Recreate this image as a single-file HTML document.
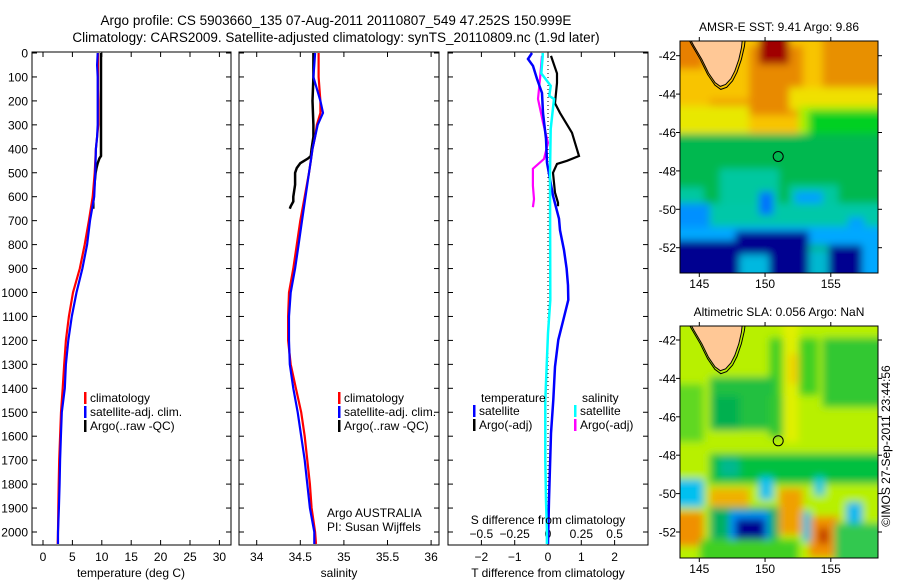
<!DOCTYPE html>
<html><head><meta charset="utf-8">
<style>
body{margin:0;background:#fff;}
svg{display:block;font-family:"Liberation Sans",sans-serif;}
text{fill:#000;}
</style></head>
<body>
<svg id="fig" width="900" height="580" viewBox="0 0 900 580" xmlns="http://www.w3.org/2000/svg">
<defs>
<filter id="blurTop" filterUnits="userSpaceOnUse" x="670" y="30" width="220" height="255"><feGaussianBlur stdDeviation="4"/></filter>
<filter id="blurBot" filterUnits="userSpaceOnUse" x="670" y="315" width="220" height="255"><feGaussianBlur stdDeviation="4"/></filter>
<clipPath id="clipTop"><rect x="680" y="41" width="198" height="232"/></clipPath>
<clipPath id="clipBot"><rect x="680" y="326" width="198" height="232"/></clipPath>
</defs>
<text x="336" y="25" font-size="13.5" text-anchor="middle">Argo profile: CS 5903660_135 07-Aug-2011 20110807_549 47.252S 150.999E</text>
<text x="336" y="42" font-size="13.5" text-anchor="middle">Climatology: CARS2009. Satellite-adjusted climatology: synTS_20110809.nc (1.9d later)</text>
<g id="g1"></g>
<g id="g2"></g>
<g id="g3"></g>
<g id="m1"></g>
<g id="m2"></g>
</svg>
<script>
// ---- depth profiles data ----
const climDepth = [0,50,100,150,200,250,300,350,400,450,500,600,700,800,900,1000,1100,1200,1300,1400,1500,1600,1700,1800,1900,2000,2050];
const tClim = [9.35,9.35,9.35,9.35,9.4,9.4,9.4,9.2,9.0,8.9,8.8,8.45,7.8,7.1,6.25,5.1,4.4,3.9,3.6,3.35,3.06,2.9,2.75,2.67,2.6,2.55,2.5];
const tSat  = [9.3,9.2,9.3,9.3,9.3,9.3,9.3,9.2,9.0,8.95,8.9,8.7,8.0,7.5,6.7,5.7,4.9,4.3,3.9,3.7,3.2,3.05,2.9,2.83,2.7,2.55,2.55];
const sClim = [34.71,34.71,34.71,34.72,34.73,34.73,34.69,34.67,34.64,34.62,34.6,34.55,34.5,34.46,34.42,34.37,34.36,34.36,34.39,34.45,34.51,34.55,34.58,34.61,34.63,34.67,34.68];
const sSat  = [34.67,34.66,34.65,34.69,34.73,34.76,34.70,34.67,34.64,34.62,34.6,34.56,34.52,34.48,34.44,34.39,34.37,34.37,34.38,34.42,34.47,34.51,34.55,34.58,34.61,34.66,34.66];
const argoDepth = [0,100,200,300,350,400,430,440,460,480,500,550,600,620,640,650];
const tArgo = [9.86,9.86,9.86,9.86,9.86,9.86,9.86,9.6,9.3,9.1,8.95,8.75,8.6,8.55,8.55,8.55];
const sArgo = [34.65,34.65,34.64,34.65,34.65,34.63,34.62,34.59,34.5,34.46,34.44,34.44,34.42,34.42,34.39,34.38];
// differences
const tDiffDepth = [0,25,54,108,167,250,358,458,596,692,740,823,900,970,1031,1115,1198,1310,1449,1588,1727,1866,1991,2050];
const tDiffSat = [-0.48,-0.6,-0.45,-0.33,-0.18,-0.15,-0.06,-0.03,0.15,0.33,0.36,0.48,0.56,0.6,0.61,0.46,0.31,0.21,0.16,0.09,0.06,0.03,0.01,0.0];
const sDiffDepth = [0,12,85,137,179,192,317,500,1031,1170,1449,1700,1866,1991,2050];
const sDiffSat = [-0.04,-0.04,-0.05,0.02,0.01,0.045,0.02,0.015,0.017,0.0,-0.02,-0.02,-0.015,-0.008,-0.008];
const tDiffArgoDepth = [12,85,125,210,250,333,375,430,450,463,500,583,625,640];
const tDiffArgo = [0.09,0.27,0.27,0.21,0.36,0.72,0.81,0.93,0.57,0.27,0.15,0.21,0.3,0.3];
const sDiffArgoDepth = [12,108,192,292,375,442,483,554,610,644];
const sDiffArgo = [-0.045,-0.06,-0.075,-0.037,0,-0.03,-0.113,-0.113,-0.105,-0.113];
// ticks
const depthTicks = [0,100,200,300,400,500,600,700,800,900,1000,1100,1200,1300,1400,1500,1600,1700,1800,1900,2000];
const tTicks = [0,5,10,15,20,25,30];
const sTicks = [34,34.5,35,35.5,36];
const sTickLabels = ["34","34.5","35","35.5","36"];
const dTTicks = [-2,-1,0,1,2];
const dSTicks = [-0.5,-0.25,0,0.25,0.5];
const dSTickLabels = ["\u22120.5","\u22120.25","0","0.25","0.5"];
const dTTickLabels = ["\u22122","\u22121","0","1","2"];
const lonTicks = [145,150,155];
const latTicks = [-42,-44,-46,-48,-50,-52];

const NS="http://www.w3.org/2000/svg";
function mk(parent, tag, attrs, txt){
  const e=document.createElementNS(NS,tag);
  for(const k in attrs) e.setAttribute(k,attrs[k]);
  if(txt!==undefined) e.textContent=txt;
  parent.appendChild(e); return e;
}
const Y = d => 53 + d*0.2395;
const TOP=52, BOT=545;

function frame(g, x0, x1, name){
  const r = mk(g,'rect',{x:x0,y:TOP,width:x1-x0,height:BOT-TOP,fill:'none',stroke:'#000','stroke-width':1});
  
  
  depthTicks.forEach(d=>{
    const y=Y(d);
    mk(g,'line',{x1:x0,x2:x0+5,y1:y,y2:y,stroke:'#000'});
    mk(g,'line',{x1:x1-5,x2:x1,y1:y,y2:y,stroke:'#000'});
  });
}
function line(g, xs, ds, X, color, name, w){
  const pts = xs.map((v,i)=>X(v).toFixed(1)+','+Y(ds[i]).toFixed(1)).join(' ');
  const p = mk(g,'polyline',{points:pts,fill:'none',stroke:color,'stroke-width':w||2.2,'stroke-linejoin':'miter'});
  
  
}
function xticks(g,ticks,labels,X,x0,x1,ly){
  ticks.forEach((t,i)=>{
    const x=X(t);
    mk(g,'line',{x1:x,x2:x,y1:TOP,y2:TOP+5,stroke:'#000'});
    mk(g,'line',{x1:x,x2:x,y1:BOT-5,y2:BOT,stroke:'#000'});
    const tx = mk(g,'text',{x:x,y:ly,'font-size':12,'text-anchor':'middle'},labels[i]);
    
    
  });
}
function legend(g,x,y,color,label,name){
  mk(g,'rect',{x:x,y:y-10,width:2.5,height:12,fill:color});
  const t=mk(g,'text',{x:x+6,y:y,'font-size':12},label);
  
  
}

// ---- panel 1: temperature ----
const g1=document.getElementById('g1');
const X1 = t => 43 + t*5.88;
frame(g1,32,231,'temperature');
depthTicks.forEach(d=>{
  const t=mk(g1,'text',{x:28,y:Y(d)+4.5,'font-size':12,'text-anchor':'end'},String(d));
  
  
});
xticks(g1,tTicks,tTicks.map(String),X1,32,231,561);
line(g1,tArgo,argoDepth,X1,'#000','argo-temperature-line',2.5);
line(g1,tClim,climDepth,X1,'#f00','climatology-temperature-line');
line(g1,tSat,climDepth,X1,'#00f','satellite-temperature-line');
legend(g1,84,402,'#f00','climatology','legend-climatology');
legend(g1,84,416,'#00f','satellite-adj. clim.','legend-satellite');
legend(g1,84,430,'#000','Argo(..raw -QC)','legend-argo');
mk(g1,'text',{x:131,y:577,'font-size':12,'text-anchor':'middle',},'temperature (deg C)');

// ---- panel 2: salinity ----
const g2=document.getElementById('g2');
const X2 = s => 256.7 + (s-34)*87.2;
frame(g2,239,439,'salinity');
xticks(g2,sTicks,sTickLabels,X2,239,439,561);
line(g2,sArgo,argoDepth,X2,'#000','argo-salinity-line',2.5);
line(g2,sClim,climDepth,X2,'#f00','climatology-salinity-line');
line(g2,sSat,climDepth,X2,'#00f','satellite-salinity-line');
legend(g2,338,402,'#f00','climatology','legend-climatology');
legend(g2,338,416,'#00f','satellite-adj. clim.','legend-satellite');
legend(g2,338,430,'#000','Argo(..raw -QC)','legend-argo');
mk(g2,'text',{x:327,y:517,'font-size':12,},'Argo AUSTRALIA');
mk(g2,'text',{x:327,y:531,'font-size':12,},'PI: Susan Wijffels');
mk(g2,'text',{x:339,y:577,'font-size':12,'text-anchor':'middle',},'salinity');

// ---- panel 3: differences ----
const g3=document.getElementById('g3');
const XT = v => 548 + v*33.3;
const XS = v => 548 + v*133.3;
frame(g3,448,648,'difference');
xticks(g3,dTTicks,dTTickLabels,XT,448,648,561);
dSTicks.forEach((v,i)=>{
  const t=mk(g3,'text',{x:XS(v),y:538,'font-size':12,'text-anchor':'middle'},dSTickLabels[i]);
  
  
});
mk(g3,'line',{x1:XT(0),x2:XT(0),y1:Y(0),y2:BOT,stroke:'#000','stroke-dasharray':'1,3'});
line(g3,tDiffArgo,tDiffArgoDepth,XT,'#000','argo-temperature-diff-line');
line(g3,sDiffArgo,sDiffArgoDepth,XS,'#f0f','argo-salinity-diff-line');
line(g3,tDiffSat,tDiffDepth,XT,'#00f','satellite-temperature-diff-line',2.5);
line(g3,sDiffSat,sDiffDepth,XS,'#0ff','satellite-salinity-diff-line',2.5);
mk(g3,'text',{x:481,y:402,'font-size':12,},'temperature');
mk(g3,'text',{x:582,y:402,'font-size':12,},'salinity');
legend(g3,473,415,'#00f','satellite','legend-t-satellite');
legend(g3,473,429,'#000','Argo(-adj)','legend-t-argo');
legend(g3,574,415,'#0ff','satellite','legend-s-satellite');
legend(g3,574,429,'#f0f','Argo(-adj)','legend-s-argo');
mk(g3,'text',{x:548,y:524,'font-size':12,'text-anchor':'middle',},'S difference from climatology');
mk(g3,'text',{x:548,y:577,'font-size':12,'text-anchor':'middle',},'T difference from climatology');

// ---- maps ----
// blobs: [fx0, fy0, fx1, fy1, color] as fractions of map area
const sstBlobs = [
 [-0.1,-0.1,1.1,1.1,'#00b850'],
 [-0.1,-0.1,1.1,0.42,'#f8c400'],[-0.1,-0.1,0.12,0.12,'#e88000'],[0.35,0.02,0.62,0.32,'#e88a00'],
 [0.4,-0.1,0.55,0.1,'#a00000'],[0.72,-0.1,1.1,0.2,'#e89000'],[0.15,0.25,0.35,0.38,'#f0a000'],
 [-0.1,0.28,0.35,0.42,'#e8e800'],[0.55,0.2,1.1,0.3,'#f0e000'],[0.6,0.28,1.1,0.42,'#a8f000'],
 [0.65,0.3,1.1,0.45,'#00d020'],[-0.1,0.4,1.1,0.7,'#00b850'],[0.2,0.55,0.5,0.7,'#00c8a0'],
 [-0.1,0.63,0.12,0.72,'#00c8a0'],[0.55,0.62,0.8,0.75,'#00c8a0'],[-0.1,0.7,1.1,0.8,'#00c8a8'],
 [-0.1,0.7,0.15,0.82,'#0090ff'],[0.4,0.65,0.47,0.75,'#0070ff'],[0.58,0.65,0.72,0.7,'#00a0ff'],
 [0.85,0.76,0.93,0.85,'#00a0ff'],[-0.1,0.8,1.1,0.88,'#00a8ff'],
 [-0.1,0.86,0.28,1.1,'#000090'],[0.28,0.82,0.65,1.1,'#000090'],[0.3,0.92,0.45,1.1,'#00b8e0'],
 [0.65,0.9,0.75,1.1,'#00b8d0'],
 [0.75,0.88,0.92,1.1,'#000090'],[0.92,0.88,1.1,1.1,'#00a8ff']
];
const slaBlobs = [
 [-0.1,-0.1,1.1,1.1,'#b8f000'],[0.45,0.05,0.7,0.3,'#40d020'],[0.72,0.05,1.1,0.35,'#30c830'],
 [0.15,0.22,0.48,0.45,'#20c040'],[0.17,0.3,0.3,0.45,'#00b050'],[0.45,0.3,0.6,0.48,'#30c830'],
 [-0.1,0.25,0.12,0.5,'#60d820'],[0.52,-0.1,0.6,0.5,'#e0f000'],[0.55,0.12,0.6,0.25,'#f0d000'],
 [0.15,0.55,1.1,0.68,'#00c040'],[0.2,0.57,0.3,0.65,'#00b890'],[-0.1,0.66,0.12,0.78,'#00c0f0'],
 [0.4,0.65,0.47,0.75,'#00c0f0'],[0.68,0.65,0.73,0.73,'#00c8e0'],[0.84,0.76,0.92,0.86,'#00b8f0'],
 [-0.1,0.8,0.12,0.95,'#f09000'],[0.15,0.7,0.35,0.8,'#f0b000'],[0.5,0.7,0.62,0.9,'#f0a000'],
 [0.65,0.82,0.8,1.0,'#f09000'],[0.7,0.87,0.75,0.94,'#c03000'],[0.62,0.8,0.66,0.93,'#00c0e0'],
 [0.15,0.78,0.5,0.92,'#00b060'],[0.25,0.8,0.45,0.95,'#0090ff'],[0.28,0.83,0.43,0.93,'#000090'],
 [0.1,0.92,0.6,1.1,'#40d020'],[0.78,0.85,1.1,1.1,'#30c850']
];
// Tasmania outline in lon/lat
const tasLon = [144.2,148.3,148.2,148.0,147.7,147.4,147.0,146.6,146.2,145.7,145.2,144.6,144.2];
const tasLat = [-41.0,-41.0,-41.6,-42.2,-42.8,-43.2,-43.5,-43.6,-43.4,-42.9,-42.2,-41.5,-41.0];
const argoLon = 151.0, argoLat = -47.25;

function drawMap(id, y0, clip, filt, blobs, title, lat42y, lat52y){
  const g=document.getElementById(id);
  const x0=680, W=198, H=232;
  const pxPerLat=(lat52y-lat42y)/10;
  const LX = lon => 699.3 + (lon-145)*13.15;
  const LY = lat => lat42y + (-42-lat)*pxPerLat;
  const t=mk(g,'text',{x:779,y:y0-10,'font-size':12,'text-anchor':'middle'},title);
  
  
  const img=mk(g,'g',{'clip-path':'url(#'+clip+')'});
  const bl=mk(img,'g',{filter:'url(#'+filt+')'});
  blobs.forEach(b=>{
    const r=mk(bl,'rect',{x:x0+b[0]*W,y:y0+b[1]*H,width:(b[2]-b[0])*W,height:(b[3]-b[1])*H,fill:b[4]});
    
    
  });
  const cx = LX(146.3), cy=LY(-42.3);
  const pts=tasLon.map((l,i)=>LX(l).toFixed(1)+','+LY(tasLat[i]).toFixed(1)).join(' ');
  const cont=tasLon.map((l,i)=>{const x=LX(l),y=LY(tasLat[i]);return (cx+(x-cx)*1.12).toFixed(1)+','+(cy+(y-cy)*1.12).toFixed(1);}).join(' ');
  mk(img,'polygon',{points:cont,fill:'none',stroke:'#000','stroke-width':1,});
  mk(img,'polygon',{points:pts,fill:'#ffc896',stroke:'#000','stroke-width':1,});
  mk(g,'circle',{cx:LX(argoLon),cy:LY(argoLat),r:5,fill:'none',stroke:'#000','stroke-width':1,});
  mk(g,'rect',{x:x0,y:y0,width:W,height:H,fill:'none',stroke:'#000','stroke-width':1,});
  latTicks.forEach(l=>{
    const y=LY(l);
    mk(g,'line',{x1:x0-4,x2:x0,y1:y,y2:y,stroke:'#000'});
    mk(g,'line',{x1:x0+W,x2:x0+W+4,y1:y,y2:y,stroke:'#000'});
    const tx=mk(g,'text',{x:x0-4,y:y+4.5,'font-size':12,'text-anchor':'end'},String(l));
    
    
  });
  lonTicks.forEach(l=>{
    const x=LX(l);
    mk(g,'line',{x1:x,x2:x,y1:y0-4,y2:y0,stroke:'#000'});
    mk(g,'line',{x1:x,x2:x,y1:y0+H,y2:y0+H+4,stroke:'#000'});
    const tx=mk(g,'text',{x:x,y:y0+H+15,'font-size':12,'text-anchor':'middle'},String(l));
    
    
  });
}
drawMap('m1',41,'clipTop','blurTop',sstBlobs,'AMSR-E SST: 9.41 Argo: 9.86',55.7,247.7);
drawMap('m2',326,'clipBot','blurBot',slaBlobs,'Altimetric SLA: 0.056 Argo: NaN',340,532);
const cr=mk(document.getElementById('m2'),'text',{x:0,y:0,'font-size':12,'text-anchor':'middle',transform:'translate(890,446) rotate(-90)'},'\u00a9IMOS 27-Sep-2011 23:44:56');


</script>
</body></html>
